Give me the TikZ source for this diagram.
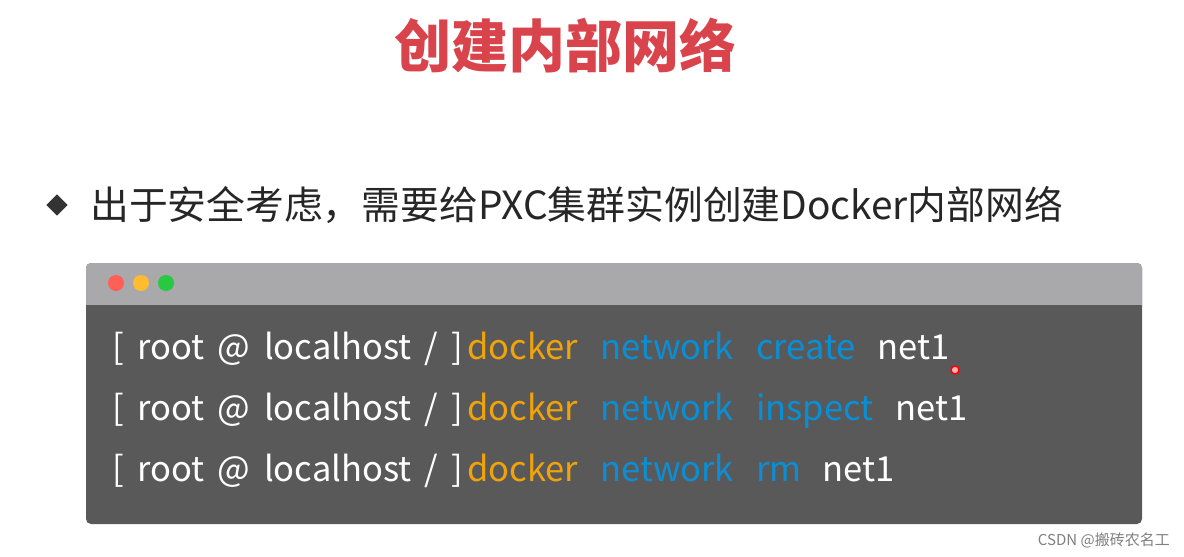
\documentclass[tikz,border=0pt]{standalone}
\usepackage{fontspec}
\setmainfont{Noto Sans CJK SC}
\newfontfamily\cjk{Noto Sans CJK SC}
\definecolor{titred}{HTML}{D9434B}
\definecolor{barg}{HTML}{A9A8AA}
\definecolor{bodyg}{HTML}{595959}
\definecolor{dred}{HTML}{FF5F57}
\definecolor{dyel}{HTML}{FEBC2E}
\definecolor{dgrn}{HTML}{28C840}
\definecolor{cor}{HTML}{F0A30A}
\definecolor{cbl}{HTML}{0A8FD6}
\tikzset{lbl/.style={anchor=base west,inner sep=0pt,font=\fontsize{34.5}{38}\selectfont}}
\begin{document}
\begin{tikzpicture}[x=1pt,y=-1pt]
\useasboundingbox[fill=white] (0,0) rectangle (1184,557);
\node[font=\fontsize{57}{64}\selectfont\bfseries,text=titred] (title) at (565,45) {创建内部网络};
\node[fill=black!80,inner sep=0pt,rotate=45,minimum width=15pt,minimum height=15pt] (bul) at (57,205) {};
\node[anchor=west,inner sep=0pt,font=\fontsize{38.8}{44}\selectfont,text=black!85] (sub) at (90,205) {出于安全考虑，需要给PXC集群实例创建Docker内部网络};
\fill[bodyg,rounded corners=5pt] (86,263) rectangle (1142,524);
\fill[barg,rounded corners=5pt] (86,263) rectangle (1142,310);
\fill[barg] (86,295) rectangle (1142,305);
\fill[bodyg] (86,305) rectangle (1142,312);
\fill[dred] (116,283) circle (8);
\fill[dyel] (141,283) circle (8);
\fill[dgrn] (166,283) circle (8);
\foreach \y/\c/\cx/\n in {359/create/877/a,420/inspect/895/b,481/rm/822/c}{
  \node[lbl,text=white] (p\n) at (112,\y) {[\ \,root\ \,@\ \,localhost\ \,/\ \,]};
  \node[lbl,text=cor] (d\n) at (467,\y) {docker};
  \node[lbl,text=cbl] (n\n) at (600,\y) {network};
  \node[lbl,text=cbl] (c\n) at (756,\y) {\c};
  \node[lbl,text=white] (t\n) at (\cx,\y) {net1};
}
\draw[red,line width=1.5pt,fill=red!30] (955,370) circle (4);
\node[anchor=east,inner sep=0pt,font=\fontsize{15}{18}\selectfont,text=black!50] (wm) at (1170,540) {CSDN @搬砖农名工};
\end{tikzpicture}
\end{document}
